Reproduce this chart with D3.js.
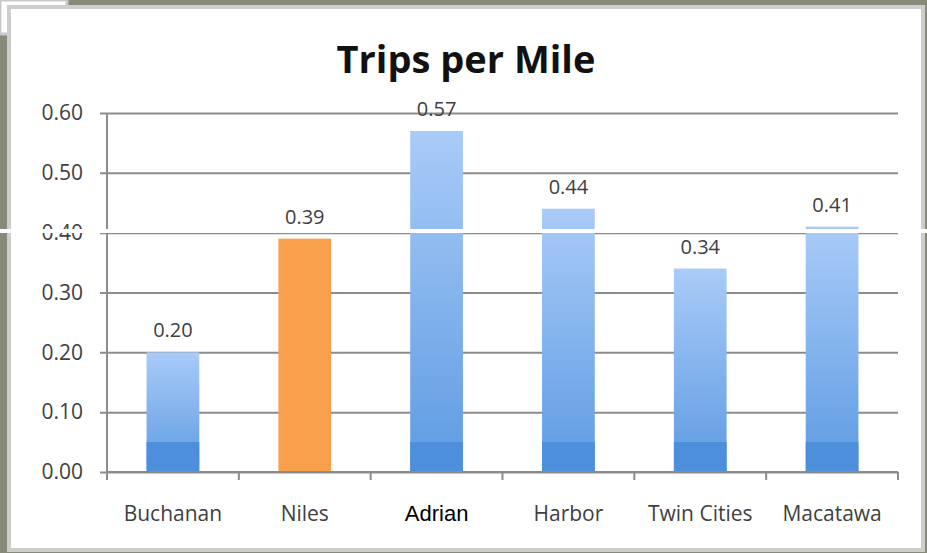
<!DOCTYPE html>
<html>
<head>
<meta charset="utf-8">
<script src="https://cdn.jsdelivr.net/npm/d3@7"></script>
<style>
  html, body { margin: 0; padding: 0; background: #878a78; }
  svg { display: block; }
</style>
</head>
<body>
<svg id="chart" width="927" height="553"></svg>
<script>
// Trips per mile by transit system
const categories = ["Buchanan", "Niles", "Adrian", "Harbor", "Twin Cities", "Macatawa"];
const values = [0.20, 0.39, 0.57, 0.44, 0.34, 0.41];
const highlighted = ["Niles"];
const yTicks = [0.00, 0.10, 0.20, 0.30, 0.40, 0.50, 0.60];
const title = "Trips per Mile";

const W = 927, H = 553;
const svg = d3.select("#chart");

// backdrop and slide panel
svg.append("rect").attr("width", W).attr("height", H).attr("fill", "#878a78");
svg.append("rect").attr("x", 0).attr("y", 0).attr("width", 67).attr("height", 34)
  .attr("fill", "#ffffff").attr("stroke", "#c9c9c9").attr("stroke-width", 3);
svg.append("rect").attr("x", 9).attr("y", 7).attr("width", 914).attr("height", 543)
  .attr("fill", "#ffffff").attr("stroke", "#cdcdcd").attr("stroke-width", 4);

const plot = { left: 107, right: 898, top: 113, bottom: 472 };

const x = d3.scaleBand().domain(categories).range([plot.left, plot.right]).paddingInner(0.6).paddingOuter(0.3);
const xOuter = d3.scaleBand().domain(categories).range([plot.left, plot.right]);
const y = d3.scaleLinear().domain([0, 0.6]).range([plot.bottom, plot.top]);

// gradient for blue bars
const defs = svg.append("defs");
const grad = defs.append("linearGradient").attr("id", "barBlue")
  .attr("x1", 0).attr("y1", 0).attr("x2", 0).attr("y2", 1);
grad.append("stop").attr("offset", "0%").attr("stop-color", "#a9cbf8");
grad.append("stop").attr("offset", "100%").attr("stop-color", "#5d9be2");

const font = "'Open Sans', 'DejaVu Sans', sans-serif";
const textColor = "#404040";

// title
svg.append("text").attr("x", 466).attr("y", 73).attr("text-anchor", "middle")
  .attr("font-family", font).attr("font-weight", 700).attr("font-size", 38)
  .attr("fill", "#111").text(title);

// y axis with gridlines
const yAxis = d3.axisLeft(y).tickValues(yTicks).tickFormat(d3.format(".2f"))
  .tickSize(-(plot.right - plot.left)).tickPadding(24);
const gy = svg.append("g").attr("transform", `translate(${plot.left},0)`).call(yAxis);
gy.select(".domain").remove();
gy.selectAll(".tick line").attr("stroke", "#8c8c8c").attr("stroke-width", 2).attr("x1", -7);
gy.selectAll(".tick text").attr("font-family", font).attr("font-size", 21).attr("fill", textColor);

// vertical axis line
svg.append("line").attr("x1", plot.left).attr("x2", plot.left)
  .attr("y1", plot.top).attr("y2", plot.bottom)
  .attr("stroke", "#8c8c8c").attr("stroke-width", 2);

// bars
const barG = svg.append("g");
categories.forEach((c, i) => {
  const isHi = highlighted.includes(c);
  const bx = x(c), bw = x.bandwidth();
  const top = y(values[i]);
  barG.append("rect").attr("x", bx).attr("y", top).attr("width", bw)
    .attr("height", y(0) - top).attr("fill", isHi ? "#f9a04c" : "url(#barBlue)");
  if (!isHi) {
    // darker base band of the blue bars
    const bandTop = Math.max(top, y(0.05));
    barG.append("rect").attr("x", bx).attr("y", bandTop).attr("width", bw)
      .attr("height", y(0) - bandTop).attr("fill", "#4d8fdb");
  }
  barG.append("text").attr("x", bx + bw / 2).attr("y", top - 15)
    .attr("text-anchor", "middle").attr("font-family", font).attr("font-size", 20)
    .attr("fill", textColor).text(values[i].toFixed(2));
});

// category axis
const gx = svg.append("g").attr("transform", `translate(0,${plot.bottom})`);
gx.append("line").attr("x1", plot.left).attr("x2", plot.right)
  .attr("stroke", "#8c8c8c").attr("stroke-width", 2);
const bounds = categories.map(c => xOuter(c)).concat([plot.right]);
gx.selectAll("line.tick").data(bounds).enter().append("line").attr("class", "tick")
  .attr("x1", d => d).attr("x2", d => d).attr("y1", 0).attr("y2", 8)
  .attr("stroke", "#8c8c8c").attr("stroke-width", 2);
gx.selectAll("text").data(categories).enter().append("text")
  .attr("x", c => xOuter(c) + xOuter.bandwidth() / 2).attr("y", 49)
  .attr("text-anchor", "middle")
  .attr("font-family", c => c === "Adrian" ? "'Liberation Sans', Arial, sans-serif" : font)
  .attr("font-size", c => c === "Adrian" ? 22 : 21)
  .attr("fill", c => c === "Adrian" ? "#000" : textColor)
  .text(c => c);

// light seam across the slide
svg.append("rect").attr("x", 0).attr("y", 229).attr("width", W).attr("height", 4).attr("fill", "#ffffff");
</script>
</body>
</html>
